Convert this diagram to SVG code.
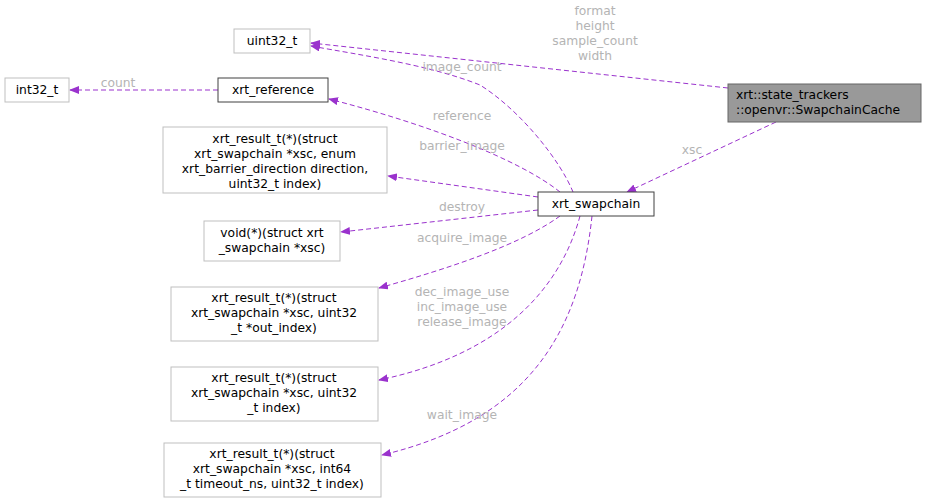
<svg xmlns="http://www.w3.org/2000/svg" width="927" height="503" viewBox="0 0 927 503">
<style>
text{font-family:"DejaVu Sans",sans-serif;font-size:12.3px;fill:#000}
.n{fill:#fff;stroke:#bfbfbf}
.d{fill:#fff;stroke:#404040}
.e{fill:none;stroke:#9a32cd;stroke-dasharray:5,3}
.l{fill:#b4b4b4;text-anchor:middle}
.c{text-anchor:middle}
</style>
<defs><marker id="a" markerWidth="10" markerHeight="8" refX="9" refY="4" orient="auto" markerUnits="userSpaceOnUse"><path d="M0,0L10,4L0,8z" fill="#9a32cd"/></marker></defs>
<rect width="927" height="503" fill="#fff"/>
<g id="edges">
<path class="e" marker-end="url(#a)" d="M728,88L311,43"/>
<path class="e" marker-end="url(#a)" d="M573,192C560,160 520,110 480,85C430,65 360,55 311,46"/>
<path class="e" marker-end="url(#a)" d="M218,90L70,90"/>
<path class="e" marker-end="url(#a)" d="M560,192C520,160 430,125 329,99"/>
<path class="e" marker-end="url(#a)" d="M538,197L388,176"/>
<path class="e" marker-end="url(#a)" d="M538,210L341,232"/>
<path class="e" marker-end="url(#a)" d="M560,216C520,245 450,268 379,288"/>
<path class="e" marker-end="url(#a)" d="M580,216C560,290 500,355 379,380"/>
<path class="e" marker-end="url(#a)" d="M592,216C580,330 530,420 382,455"/>
<path class="e" marker-end="url(#a)" d="M776,122L627,192"/>
<text class="l" x="595" y="15">format</text>
<text class="l" x="595" y="30">height</text>
<text class="l" x="595" y="45">sample_count</text>
<text class="l" x="595" y="60">width</text>
<text class="l" x="462" y="71">image_count</text>
<text class="l" x="118" y="87">count</text>
<text class="l" x="462" y="120">reference</text>
<text class="l" x="462" y="150">barrier_image</text>
<text class="l" x="462" y="211">destroy</text>
<text class="l" x="462" y="242">acquire_image</text>
<text class="l" x="462" y="296">dec_image_use</text>
<text class="l" x="462" y="311">inc_image_use</text>
<text class="l" x="462" y="326">release_image</text>
<text class="l" x="462" y="419">wait_image</text>
<text class="l" x="692" y="154">xsc</text>
</g>
<g id="uint32_t"><rect class="n" x="234" y="29" width="76" height="24"/><text class="c" x="272" y="45">uint32_t</text></g>
<g id="int32_t"><rect class="n" x="5" y="78" width="64" height="24"/><text class="c" x="37" y="94">int32_t</text></g>
<g id="xrt_reference"><rect class="d" x="218" y="78" width="110" height="24"/><text class="c" x="273" y="94">xrt_reference</text></g>
<g id="barrier"><rect class="n" x="163" y="127" width="224" height="66"/><text class="c" x="275" y="143">xrt_result_t(*)(struct</text><text class="c" x="275" y="158">xrt_swapchain *xsc, enum</text><text class="c" x="275" y="173">xrt_barrier_direction direction,</text><text class="c" x="275" y="188">uint32_t index)</text></g>
<g id="destroy"><rect class="n" x="204" y="221" width="136" height="40"/><text class="c" x="272" y="237">void(*)(struct xrt</text><text class="c" x="272" y="252">_swapchain *xsc)</text></g>
<g id="acquire"><rect class="n" x="171" y="287" width="207" height="54"/><text class="c" x="274" y="302">xrt_result_t(*)(struct</text><text class="c" x="274" y="317">xrt_swapchain *xsc, uint32</text><text class="c" x="274" y="332">_t *out_index)</text></g>
<g id="dec"><rect class="n" x="171" y="367" width="207" height="54"/><text class="c" x="274" y="382">xrt_result_t(*)(struct</text><text class="c" x="274" y="397">xrt_swapchain *xsc, uint32</text><text class="c" x="274" y="412">_t index)</text></g>
<g id="wait"><rect class="n" x="164" y="443" width="217" height="54"/><text class="c" x="272" y="458">xrt_result_t(*)(struct</text><text class="c" x="272" y="473">xrt_swapchain *xsc, int64</text><text class="c" x="272" y="488">_t timeout_ns, uint32_t index)</text></g>
<g id="xrt_swapchain"><rect class="d" x="538" y="192" width="116" height="24"/><text class="c" x="596" y="208">xrt_swapchain</text></g>
<g id="SwapchainCache"><rect x="728" y="84" width="193" height="38" fill="#999" stroke="#666"/><text x="736" y="99">xrt::state_trackers</text><text x="736" y="114">::openvr::SwapchainCache</text></g>
</svg>
